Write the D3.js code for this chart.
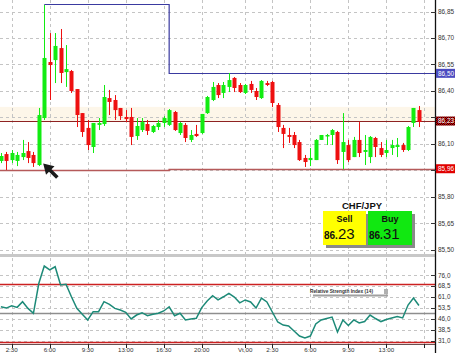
<!DOCTYPE html>
<html><head><meta charset="utf-8">
<script src="https://cdn.jsdelivr.net/npm/d3@7"></script>
<style>body{margin:0;background:#fff;}svg{display:block;font-family:"Liberation Sans",Arial,sans-serif;}</style>
</head><body><svg id="c" width="456" height="353"></svg>
<script>
// ---------- DATA ----------
const firstBar = -2; // bar index of first candle (0 = 2:30 of day 1), 30-minute bars
const opens  = [86.004,86.043,86.009,86.004,86.026,86.060,86.038,85.981,86.247,86.564,86.575,86.643,86.507,86.513,86.411,86.275,86.191,86.083,86.208,86.213,86.360,86.349,86.304,86.253,86.253,86.145,86.179,86.213,86.168,86.196,86.219,86.208,86.281,86.162,86.208,86.123,86.157,86.162,86.275,86.349,86.434,86.389,86.423,86.474,86.434,86.389,86.440,86.400,86.360,86.445,86.451,86.321,86.191,86.151,86.151,86.111,86.021,86.009,86.009,86.123,86.145,86.151,86.168,86.055,86.094,86.026,86.123,86.055,86.026,86.134,86.077,86.049,86.077,86.083,86.094,86.066,86.219,86.292];
const highs  = [86.049,86.055,86.066,86.055,86.123,86.111,86.055,86.304,86.887,86.728,86.728,86.751,86.660,86.519,86.411,86.275,86.236,86.219,86.247,86.434,86.406,86.377,86.304,86.292,86.304,86.247,86.247,86.236,86.208,86.236,86.258,86.298,86.287,86.224,86.219,86.179,86.208,86.270,86.372,86.451,86.445,86.451,86.502,86.479,86.445,86.440,86.457,86.417,86.462,86.457,86.457,86.332,86.208,86.191,86.168,86.123,86.038,86.077,86.128,86.151,86.157,86.185,86.174,86.275,86.123,86.140,86.224,86.151,86.145,86.140,86.111,86.123,86.123,86.134,86.106,86.202,86.304,86.315];
const lows   = [85.992,85.953,85.992,85.975,86.009,85.992,85.970,85.975,86.236,86.349,86.445,86.445,86.423,86.389,86.196,86.140,86.066,86.049,86.179,86.202,86.264,86.236,86.236,86.224,86.094,86.123,86.168,86.151,86.162,86.179,86.196,86.202,86.174,86.151,86.111,86.111,86.140,86.157,86.270,86.343,86.360,86.360,86.394,86.394,86.389,86.383,86.389,86.349,86.355,86.428,86.309,86.168,86.077,86.106,86.077,86.004,85.970,85.975,86.009,86.123,86.094,86.094,85.987,85.958,85.998,86.026,86.026,85.981,85.992,86.026,86.026,86.026,86.038,86.026,86.055,86.060,86.196,86.196];
const closes = [86.032,86.004,86.049,86.038,86.049,86.021,85.992,86.264,86.587,86.547,86.655,86.502,86.524,86.400,86.264,86.168,86.094,86.219,86.219,86.366,86.338,86.292,86.258,86.241,86.140,86.202,86.224,86.174,86.202,86.219,86.247,86.292,86.179,86.219,86.134,86.151,86.145,86.270,86.366,86.423,86.377,86.434,86.462,86.417,86.394,86.434,86.406,86.366,86.457,86.434,86.332,86.196,86.157,86.140,86.094,86.009,85.998,86.021,86.123,86.151,86.151,86.179,86.009,86.111,86.009,86.123,86.049,86.066,86.140,86.083,86.038,86.066,86.094,86.094,86.066,86.196,86.304,86.225];
const rsi14  = [54.3,53.4,55.0,53.9,57.8,53.2,49.8,70.5,82.4,79.7,81.9,69.3,69.8,61.2,53.2,49.1,45.2,50.9,50.9,57.8,56.0,53.2,52.1,50.5,45.9,48.6,50.2,48.1,49.1,49.8,51.4,54.3,48.1,49.8,45.2,45.9,46.3,53.7,58.3,61.9,59.0,61.2,63.6,61.0,57.0,59.0,57.6,53.4,60.3,57.6,50.7,43.8,41.7,41.0,37.6,34.1,32.8,34.1,42.4,45.2,46.2,47.2,36.9,45.2,41.4,45.2,43.1,44.1,48.6,46.2,44.1,45.5,46.6,47.6,46.6,55.5,60.3,55.2];

const timeTickIndex  = [0,7,14,21,28,35,43,48,55,62,69,76];
const timeTickLabels = ["2:30","6:00","9:30","13:00","16:30","20:00","Vt,00","2:30","6:00","9:30","13:00",""];
const priceGrid       = [86.85,86.70,86.55,86.40,86.25,86.10,85.95,85.80,85.65,85.50];
const priceTickLabels = ["86,85","86,70","86,55","86,40","","86,10","","85,80","85,65","85,50"];
const rsiGrid       = [76,68.5,61,53.5,46,38.5,31];
const rsiTickLabels = ["76,0","68,5","61,0","53,5","46,0","38,5","31,0"];
const rsiRedLevels = [70,30];
const rsiMidLevel = 50;

// day high / low step lines (index, value)
const highLevelIdx = [6, 29, 29, 78];
const highLevelVal = [86.89, 86.89, 86.50, 86.50];
const lowLevelIdx  = [-3, 29, 29, 78];
const lowLevelVal  = [85.953, 85.953, 85.96, 85.96];
const bid = 86.23, ask = 86.31;
const symbol = "CHF/JPY";
const arrowTip = {i: 5.8, price: 85.99};

// ---------- SCALES ----------
const svg = d3.select("#c");
const plotR = 435;
const x  = d3.scaleLinear().domain([-2.155, 77.96]).range([0, plotR]);
const yP = d3.scaleLinear().domain([85.50, 86.85]).range([250, 11.5]);
const yR = d3.scaleLinear().domain([30, 76]).range([342, 275.3]);
const bars = opens.map((o,k)=>({i:firstBar+k,o,h:highs[k],l:lows[k],c:closes[k],r:rsi14[k]}));

const GREEN="#12ec12", RED="#ee1010";

// pattern for bid label
const defs = svg.append("defs");
const pat = defs.append("pattern").attr("id","chk").attr("width",2).attr("height",2).attr("patternUnits","userSpaceOnUse");
pat.append("rect").attr("width",2).attr("height",2).attr("fill","#d00000");
pat.append("rect").attr("width",1).attr("height",1).attr("fill","#300000");
pat.append("rect").attr("x",1).attr("y",1).attr("width",1).attr("height",1).attr("fill","#300000");
defs.append("clipPath").attr("id","cp").append("rect").attr("x",0).attr("y",0).attr("width",plotR).attr("height",254);
defs.append("clipPath").attr("id","cr").append("rect").attr("x",0).attr("y",257).attr("width",plotR).attr("height",88);

// spread band
svg.append("rect").attr("x",0).attr("width",plotR).attr("y",yP(ask)).attr("height",yP(bid)-yP(ask)).attr("fill","#fdf6e9");

// grid
const grid = svg.append("g").attr("stroke","#c4c4c4").attr("stroke-dasharray","3,3").attr("stroke-width",1);
grid.selectAll(".gv").data(timeTickIndex).join("line")
  .attr("x1",d=>Math.round(x(d))+0.5).attr("x2",d=>Math.round(x(d))+0.5).attr("y1",0).attr("y2",344);
grid.selectAll(".gh").data(priceGrid).join("line").attr("class","gh")
  .attr("x1",0).attr("x2",plotR).attr("y1",d=>Math.round(yP(d))+0.5).attr("y2",d=>Math.round(yP(d))+0.5);
grid.selectAll(".gr").data(rsiGrid).join("line").attr("class","gr")
  .attr("x1",0).attr("x2",plotR).attr("y1",d=>Math.round(yR(d))+0.5).attr("y2",d=>Math.round(yR(d))+0.5);

// price panel
const pg = svg.append("g").attr("clip-path","url(#cp)");
const stepLine = d3.line().x(d=>x(d[0])).y(d=>Math.round(yP(d[1]))+0.5);
pg.append("path").attr("d",stepLine(lowLevelIdx.map((v,k)=>[v,lowLevelVal[k]]))).attr("fill","none").attr("stroke","#b55a5a").attr("stroke-width",1.5);
pg.append("path").attr("d",stepLine(highLevelIdx.map((v,k)=>[v,highLevelVal[k]]))).attr("fill","none").attr("stroke","#3a3aa0").attr("stroke-width",1.2);
pg.append("line").attr("x1",0).attr("x2",plotR).attr("y1",Math.round(yP(bid))+0.5).attr("y2",Math.round(yP(bid))+0.5).attr("stroke","#8e2222").attr("stroke-width",1);

const cg = pg.selectAll(".candle").data(bars).join("g");
cg.append("line")
  .attr("x1",d=>Math.round(x(d.i))+0.5).attr("x2",d=>Math.round(x(d.i))+0.5)
  .attr("y1",d=>yP(d.h)).attr("y2",d=>yP(d.l))
  .attr("stroke",d=>d.c>=d.o?GREEN:RED).attr("stroke-width",1);
cg.append("rect")
  .attr("x",d=>Math.round(x(d.i))-1.5).attr("width",4)
  .attr("y",d=>yP(Math.max(d.o,d.c))).attr("height",d=>Math.max(1.5,Math.abs(yP(d.o)-yP(d.c))))
  .attr("fill",d=>d.c>=d.o?GREEN:RED);

// arrow annotation
{
  const tx=x(arrowTip.i), ty=yP(arrowTip.price);
  const a=Math.SQRT1_2;
  const P=(along,perp)=>[tx+along*a+perp*a, ty+along*a-perp*a];
  const pts=[P(0,0),P(10,6),P(10,1.8),P(20,1.8),P(20,-1.8),P(10,-1.8),P(10,-6)];
  svg.append("path").attr("d","M"+pts.map(p=>p.join(",")).join("L")+"Z").attr("fill","#1a1a1a");
}

// separator between panels
svg.append("rect").attr("x",0).attr("y",254).attr("width",plotR).attr("height",3).attr("fill","#c8c8c8");

// RSI panel
const rg = svg.append("g").attr("clip-path","url(#cr)");
rg.selectAll(".rl").data(rsiRedLevels).join("line")
  .attr("x1",0).attr("x2",plotR).attr("y1",d=>Math.round(yR(d))+0.5).attr("y2",d=>Math.round(yR(d))+0.5)
  .attr("stroke","#cc2020").attr("stroke-width",1.3);
rg.append("line").attr("x1",0).attr("x2",plotR).attr("y1",Math.round(yR(rsiMidLevel))+0.5).attr("y2",Math.round(yR(rsiMidLevel))+0.5)
  .attr("stroke","#8e8e8e").attr("stroke-width",1.5);
rg.append("path").datum(bars).attr("d",d3.line().x(d=>x(d.i)).y(d=>yR(d.r)))
  .attr("fill","none").attr("stroke","#1d8a78").attr("stroke-width",1.5);

// RSI title
svg.append("rect").attr("x",313).attr("y",294.5).attr("width",75).attr("height",2).attr("fill","#a0a0a0");
svg.append("rect").attr("x",384).attr("y",289).attr("width",4).attr("height",5).attr("fill","#b0b0b0");
svg.append("text").attr("x",310).attr("y",292.5).attr("font-size",5.6).attr("font-weight","bold").attr("fill","#333")
  .attr("textLength",63).attr("lengthAdjust","spacingAndGlyphs").text("Relative Strength Index (14)");

// bottom axis
svg.append("line").attr("x1",0).attr("x2",plotR).attr("y1",344.5).attr("y2",344.5).attr("stroke","#6a5050").attr("stroke-width",1.2);
const xt = svg.append("g");
xt.selectAll("line").data(timeTickIndex).join("line")
  .attr("x1",d=>Math.round(x(d))+0.5).attr("x2",d=>Math.round(x(d))+0.5).attr("y1",344).attr("y2",348).attr("stroke","#222");
xt.selectAll("text").data(timeTickIndex).join("text")
  .attr("x",d=>x(d)).attr("y",352).attr("text-anchor","middle").attr("font-size",6.2).attr("fill","#333")
  .text((d,k)=>timeTickLabels[k]);

// right axis
svg.append("line").attr("x1",plotR+0.5).attr("x2",plotR+0.5).attr("y1",0).attr("y2",353).attr("stroke","#111").attr("stroke-width",1.3);
const pa = svg.append("g");
pa.selectAll("line").data(priceGrid).join("line")
  .attr("x1",431).attr("x2",436).attr("y1",d=>Math.round(yP(d))+0.5).attr("y2",d=>Math.round(yP(d))+0.5).attr("stroke","#333");
pa.selectAll("text").data(priceGrid).join("text")
  .attr("x",438).attr("y",d=>yP(d)+2.3).attr("font-size",6.4).attr("fill","#333").text((d,k)=>priceTickLabels[k]);
const ra = svg.append("g");
ra.selectAll("line").data(rsiGrid).join("line")
  .attr("x1",431).attr("x2",436).attr("y1",d=>Math.round(yR(d))+0.5).attr("y2",d=>Math.round(yR(d))+0.5).attr("stroke","#333");
ra.selectAll("text").data(rsiGrid).join("text")
  .attr("x",438).attr("y",d=>yR(d)+2.3).attr("font-size",6.4).attr("fill","#333").text((d,k)=>rsiTickLabels[k]);

// price boxes on axis
const boxes = [
  {v: highLevelVal[3], fill:"#4b4bc0", lineCol:"#3a3aa0"},
  {v: bid, fill:"url(#chk)", lineCol:"#8e2222"},
  {v: lowLevelVal[3], fill:"#e00000", lineCol:"#b55a5a"}
];
const fmt = v=>v.toFixed(2).replace(".",",");
boxes.forEach(b=>{
  const yy=yP(b.v);
  svg.append("rect").attr("x",436).attr("y",yy-4.5).attr("width",19).attr("height",9).attr("fill",b.fill);
  svg.append("text").attr("x",438).attr("y",yy+2.3).attr("font-size",6.4).attr("fill","#fff").text(fmt(b.v));
});

// quote panel
const qp = svg.append("g");
qp.append("rect").attr("x",326).attr("y",214).attr("width",89).attr("height",34).attr("fill","#8a8a8a");
qp.append("rect").attr("x",323).attr("y",211).attr("width",43).attr("height",34).attr("fill","#ffff00");
qp.append("rect").attr("x",368).attr("y",211).attr("width",44).attr("height",34).attr("fill","#11e811");
qp.append("text").attr("x",362).attr("y",209).attr("text-anchor","middle").attr("font-size",9.5).attr("font-weight","bold").attr("fill","#111").text(symbol);
qp.append("text").attr("x",344.5).attr("y",222).attr("text-anchor","middle").attr("font-size",9).attr("font-weight","bold").attr("fill","#111").text("Sell");
qp.append("text").attr("x",390).attr("y",222).attr("text-anchor","middle").attr("font-size",9).attr("font-weight","bold").attr("fill","#111").text("Buy");
const quote=(xx,v)=>{
  const s=v.toFixed(2); const big=s.slice(-2), small=s.slice(0,-2);
  const t=qp.append("text").attr("x",xx).attr("y",239).attr("fill","#111");
  t.append("tspan").attr("font-size",10).attr("font-weight","bold").text(small);
  t.append("tspan").attr("font-size",15).text(big);
};
quote(324,bid);
quote(369,ask);
</script></body></html>
